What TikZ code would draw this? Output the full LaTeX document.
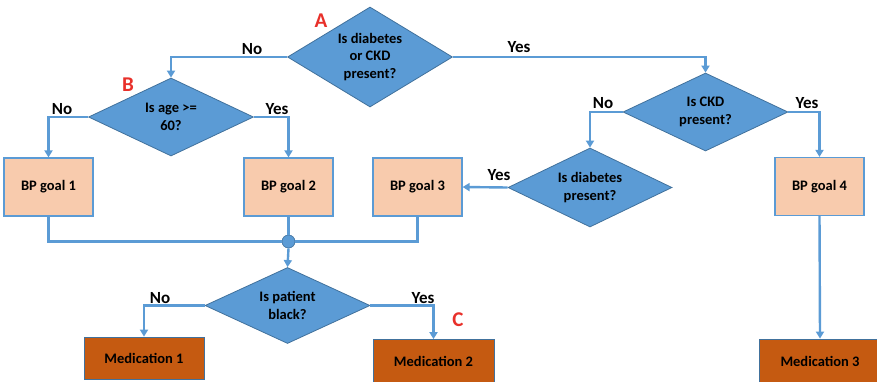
\documentclass[tikz,border=0pt]{standalone}
\usepackage{fontspec}
\setmainfont{Carlito}
\usetikzlibrary{shapes.geometric,arrows.meta}

\definecolor{lineblue}{HTML}{5B9BD5}
\definecolor{darkblue}{HTML}{41719C}
\definecolor{peach}{HTML}{F8CBAD}
\definecolor{rust}{HTML}{C55A11}
\definecolor{markred}{HTML}{E8302A}

\begin{document}
\begin{tikzpicture}[x=1pt,y=-1pt,
  boxfont/.style={font=\fontsize{14.5}{17.5}\selectfont\bfseries},
  decision/.style={diamond, draw=darkblue, line width=0.8pt, fill=lineblue,
    inner sep=0pt, aspect=2, minimum width=165pt, minimum height=78pt,
    align=center, boxfont},
  goal/.style={rectangle, draw=lineblue, line width=1.2pt, fill=peach,
    minimum width=89pt, minimum height=58pt, boxfont},
  med/.style={rectangle, draw=darkblue, line width=0.8pt, fill=rust,
    minimum width=121pt, minimum height=44pt, boxfont},
  joint/.style={circle, draw=darkblue, line width=0.6pt, fill=lineblue,
    minimum size=13pt, inner sep=0pt},
  flow/.style={draw=lineblue, line width=2.4pt, -{Triangle[width=8pt,length=7pt]}},
  link/.style={draw=lineblue, line width=2.4pt},
  answer/.style={font=\fontsize{17}{20}\selectfont\bfseries},
  tag/.style={text=markred, font=\fontsize{21}{24}\selectfont\bfseries}]

\useasboundingbox (0,0) rectangle (877,381);

% decisions
\node[decision, minimum height=100pt] (qA) at (370,57)
  {Is diabetes\\or CKD\\present?};
\node[decision] (qB) at (171,117) {Is age >=\\60?};
\node[decision] (qCKD) at (705.5,112) {Is CKD\\present?};
\node[decision, minimum width=164pt, minimum height=79pt] (qDM) at (590,187.5)
  {Is diabetes\\present?};
\node[decision, minimum height=76pt] (qBlack) at (287.5,305.5)
  {Is patient\\black?};

% blood pressure goals
\node[goal] (g1) at (48.5,187) {BP goal 1};
\node[goal] (g2) at (288.5,187) {BP goal 2};
\node[goal] (g3) at (417.5,187) {BP goal 3};
\node[goal] (g4) at (819.5,186.5) {BP goal 4};

% junction
\node[joint] (join) at (288.5,241.5) {};

% medications
\node[med, minimum width=120pt, minimum height=42pt] (m1) at (144,358) {Medication 1};
\node[med] (m2) at (433.5,361.5) {Medication 2};
\node[med] (m3) at (820,361) {Medication 3};

% connectors
\draw[flow] (qA.west) -| (qB.north);
\draw[flow] (qA.east) -| (qCKD.north);
\draw[flow] (qB.west) -| (g1.north);
\draw[flow] (qB.east) -| (g2.north);
\draw[flow] (qCKD.west) -| (qDM.north);
\draw[flow] (qCKD.east) -| (g4.north);
\draw[flow] (qDM.west) -- (g3.east);
\draw[link] (g1.south) |- (join.west);
\draw[link] (g3.south) |- (join.east);
\draw[link] (g2.south) -- (join.north);
\draw[flow] (join.south) -- (qBlack.north);
\draw[flow] (qBlack.west) -| (m1.north);
\draw[flow] (qBlack.east) -| (m2.north);
\draw[flow] (g4.south) -- (m3.north);

% answers
\node[answer] (nA) at (252,49) {No};
\node[answer] (yA) at (519,47) {Yes};
\node[answer] (nB) at (62,109) {No};
\node[answer] (yB) at (277,109) {Yes};
\node[answer] (nCKD) at (603,103) {No};
\node[answer] (yCKD) at (807,103) {Yes};
\node[answer] (yDM) at (499,175) {Yes};
\node[answer] (nBlack) at (160,298) {No};
\node[answer] (yBlack) at (423,298) {Yes};

% markers
\node[tag] (tA) at (321,21) {A};
\node[tag] (tB) at (128,85) {B};
\node[tag] (tC) at (458,320) {C};
\end{tikzpicture}
\end{document}
